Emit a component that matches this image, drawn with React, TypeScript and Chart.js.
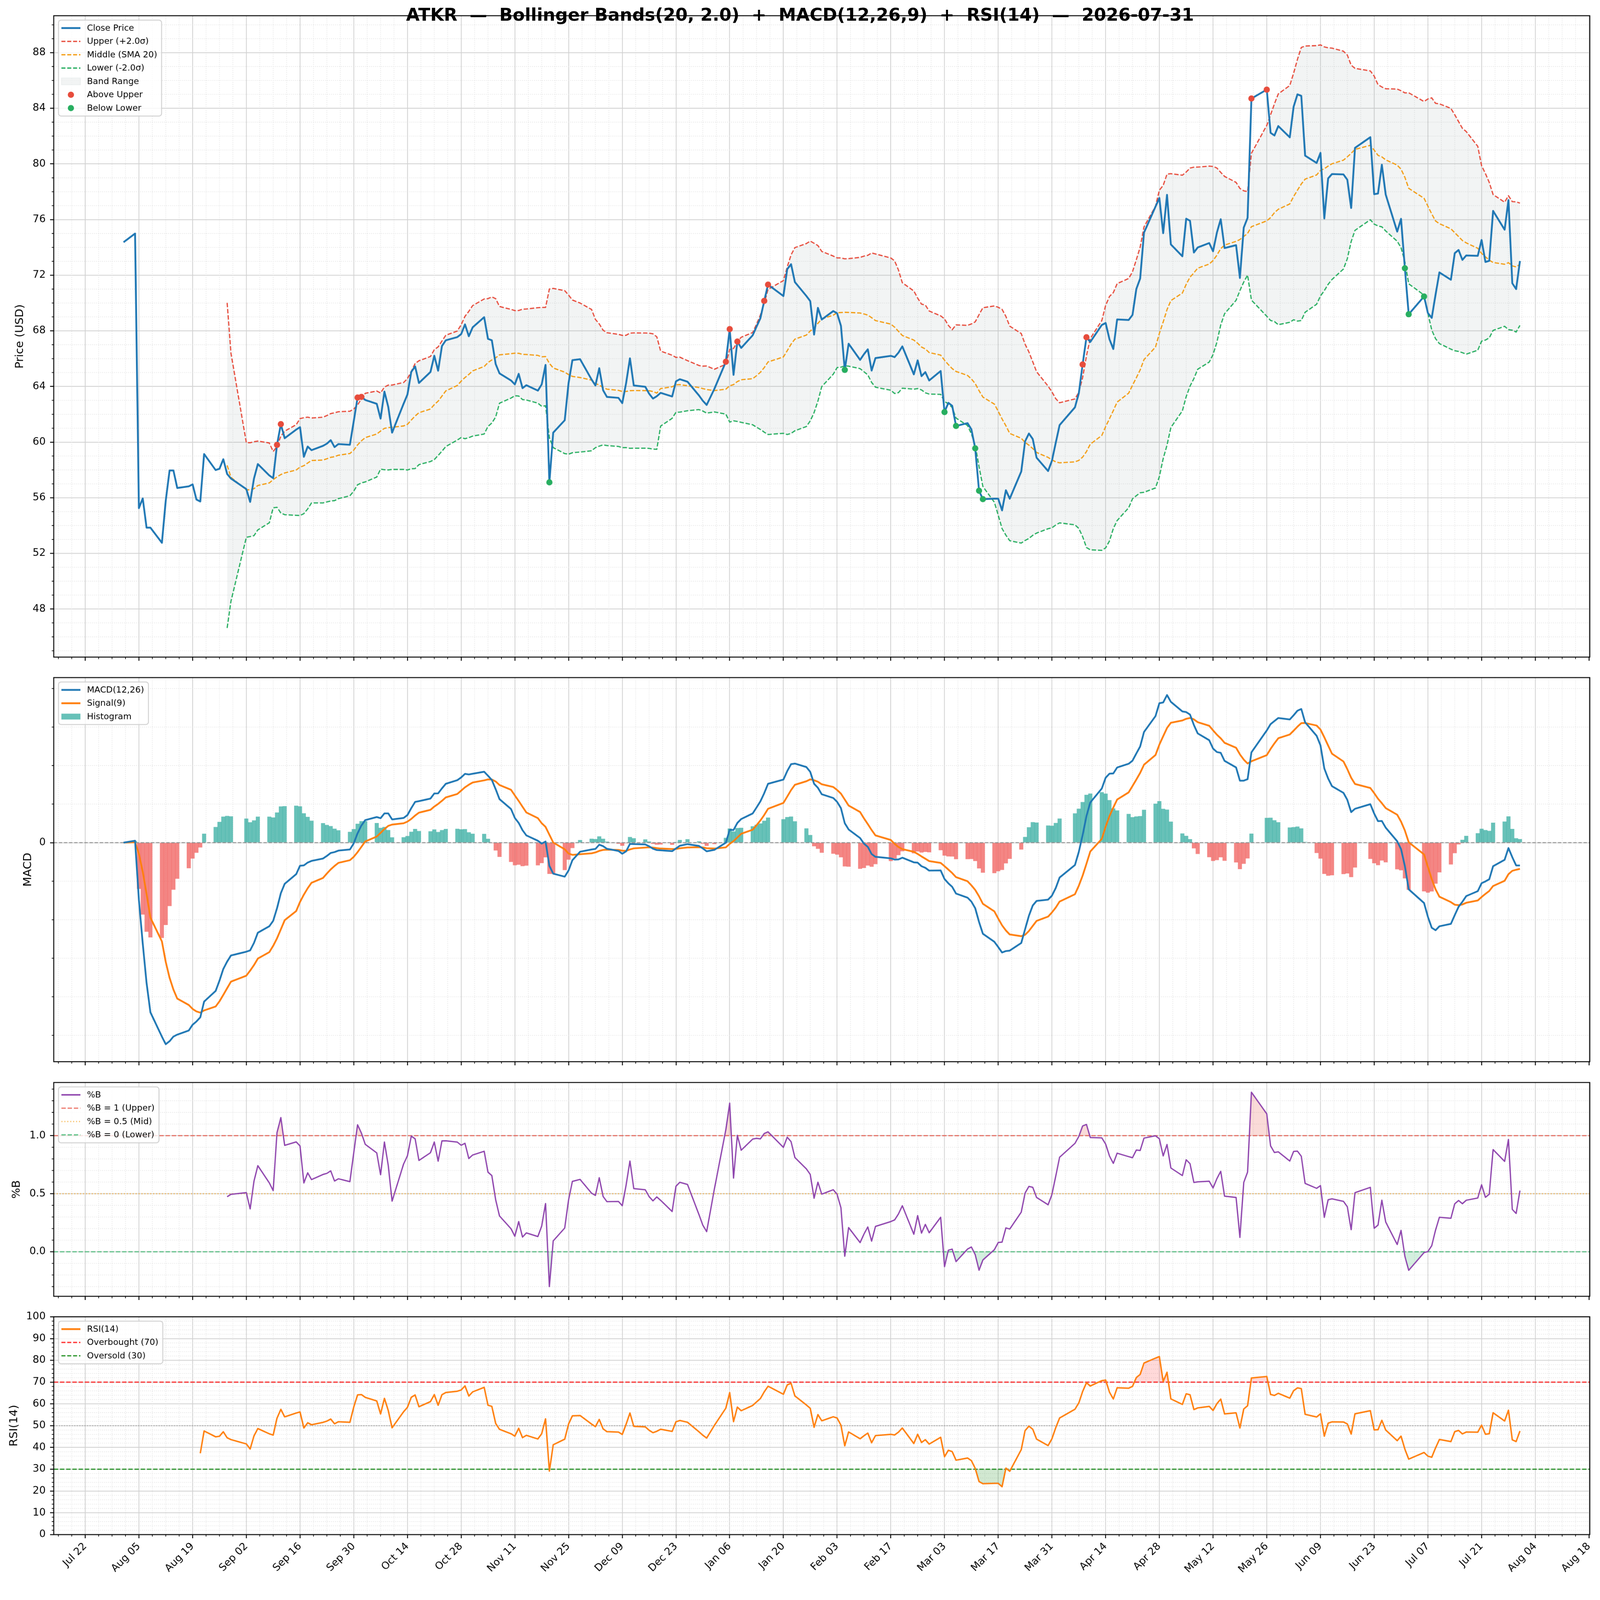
import React, { useEffect, useRef, useState } from "react";
import { Chart, registerables } from "chart.js";

Chart.register(...registerables);
Chart.defaults.font.family = '"DejaVu Sans", sans-serif';

// ---- data ----
const ticker = "ATKR";
const asOf = "2026-07-31";
const firstDay = "2025-08-01";
const lastDay = "2026-07-31";
// exchange holidays (no bars on these days)
const holidays = [
  "2025-09-01", "2025-11-27", "2025-12-25", "2026-01-01", "2026-01-19",
  "2026-02-16", "2026-04-03", "2026-05-25", "2026-06-19", "2026-07-03",
];

// daily closes, one row per week
const closes = [
  74.37,                                  // Aug 01
  74.99, 55.25, 55.95, 53.85, 53.85,      // Aug 04
  52.76, 55.80, 57.96, 57.96, 56.70,      // Aug 11
  56.82, 56.96, 55.87, 55.73, 59.14,      // Aug 18
  57.99, 58.08, 58.77, 57.71, 57.38,      // Aug 25
  56.62, 55.70, 57.38, 58.42,             // Sep 02
  57.60, 57.41, 59.80, 61.29, 60.28,      // Sep 08
  60.90, 61.07, 58.94, 59.68, 59.42,      // Sep 15
  59.73, 59.89, 60.14, 59.64, 59.86,      // Sep 22
  59.81, 61.50, 63.20, 63.25, 63.03,      // Sep 29
  62.75, 61.69, 63.63, 62.53, 60.68,      // Oct 06
  62.76, 63.42, 65.05, 65.44, 64.25,      // Oct 13
  65.04, 66.21, 65.13, 66.91, 67.32,      // Oct 20
  67.55, 67.76, 68.46, 67.61, 68.25,      // Oct 27
  68.98, 67.42, 67.32, 65.61, 64.94,      // Nov 03
  64.43, 64.15, 64.91, 63.88, 64.09,      // Nov 10
  63.70, 64.15, 65.55, 57.11, 60.68,      // Nov 17
  61.57, 64.24, 65.89, 65.96,             // Nov 24
  64.50, 64.07, 65.31, 63.73, 63.25,      // Dec 01
  63.18, 62.80, 64.24, 66.02, 64.07,      // Dec 08
  63.98, 63.48, 63.13, 63.30, 63.54,      // Dec 15
  63.28, 64.37, 64.52, 64.34,             // Dec 22
  63.35, 62.97, 62.67, 63.82,             // Dec 29
  65.78, 68.12, 64.83, 67.23, 66.77,      // Jan 05
  67.68, 68.30, 68.90, 70.15, 71.32,      // Jan 12
  70.50, 72.43, 72.79, 71.50,             // Jan 20
  70.50, 70.13, 67.73, 69.65, 68.81,      // Jan 26
  69.42, 69.26, 68.36, 65.19, 67.07,      // Feb 02
  65.91, 66.32, 66.67, 65.14, 66.04,      // Feb 09
  66.20, 66.11, 66.43, 66.88,             // Feb 17
  64.87, 65.88, 64.74, 65.03, 64.43,      // Feb 23
  65.11, 62.16, 62.82, 62.61, 61.16,      // Mar 02
  61.36, 60.92, 59.55, 56.50, 55.90,      // Mar 09
  55.93, 55.93, 55.09, 56.54, 55.93,      // Mar 16
  57.88, 60.05, 60.62, 60.22, 58.88,      // Mar 23
  57.92, 58.66, 59.96, 61.22,             // Mar 30
  62.50, 63.50, 65.58, 67.54, 67.20,      // Apr 06
  68.42, 68.56, 67.39, 66.69, 68.82,      // Apr 13
  68.78, 69.14, 71.01, 71.76, 75.06,      // Apr 20
  76.93, 77.55, 75.02, 77.78, 74.21,      // Apr 27
  73.36, 76.06, 75.91, 73.63, 73.99,      // May 04
  74.31, 73.72, 75.06, 76.02, 73.95,      // May 11
  74.16, 71.80, 75.42, 76.12, 84.70,      // May 18
  85.34, 82.23, 82.04, 82.72,             // May 26
  81.91, 84.11, 85.00, 84.89, 80.59,      // Jun 01
  80.07, 80.79, 76.08, 78.96, 79.27,      // Jun 08
  79.24, 78.86, 76.83, 81.15,             // Jun 15
  81.92, 77.82, 77.87, 79.94, 77.80,      // Jun 22
  75.13, 76.05, 72.50, 69.19,             // Jun 29
  70.47, 69.28, 68.93, 70.60, 72.20,      // Jul 06
  71.67, 73.58, 73.81, 73.10, 73.42,      // Jul 13
  73.39, 74.53, 72.95, 73.03, 76.62,      // Jul 20
  75.27, 77.40, 71.42, 71.00, 73.02,      // Jul 27
];

// indicator settings
const bbWindow = 20;
const bbK = 2.0;
const macdFast = 12;
const macdSlow = 26;
const macdSignal = 9;
const rsiPeriod = 14;
const pctBLevels = [1, 0.5, 0];
const rsiLevels = [70, 50, 30];

// date axis: a label every two weeks starting here
const tickOrigin = "2025-07-22";
const tickEveryDays = 14;
const months = ["Jan", "Feb", "Mar", "Apr", "May", "Jun", "Jul", "Aug", "Sep", "Oct", "Nov", "Dec"];

const title = `${ticker}  \u2014  Bollinger Bands(${bbWindow}, ${bbK.toFixed(1)})  +  MACD(${macdFast},${macdSlow},${macdSignal})  +  RSI(${rsiPeriod})  \u2014  ${asOf}`;

// ---- derived series ----
const DAY = 86400000;
const origin = Date.parse(tickOrigin + "T00:00:00Z");
const toX = (iso: string) => (Date.parse(iso + "T00:00:00Z") - origin) / DAY;

function tradingDays(): string[] {
  const out: string[] = [];
  const end = Date.parse(lastDay + "T00:00:00Z");
  for (let t = Date.parse(firstDay + "T00:00:00Z"); t <= end; t += DAY) {
    const d = new Date(t);
    const wd = d.getUTCDay();
    if (wd === 0 || wd === 6) continue;
    const iso = d.toISOString().slice(0, 10);
    if (holidays.includes(iso)) continue;
    out.push(iso);
  }
  return out;
}

const dates = tradingDays();
const n = Math.min(dates.length, closes.length);
const xs = dates.slice(0, n).map(toX);
const px = closes.slice(0, n);

function ema(v: number[], span: number) {
  const a = 2 / (span + 1);
  const out: number[] = [];
  v.forEach((x, i) => out.push(i === 0 ? x : a * x + (1 - a) * out[i - 1]));
  return out;
}

const emaFast = ema(px, macdFast);
const emaSlow = ema(px, macdSlow);
const macd = px.map((_, i) => emaFast[i] - emaSlow[i]);
const signal = ema(macd, macdSignal);
const hist = macd.map((m, i) => m - signal[i]);

const mid: (number | null)[] = [];
const upper: (number | null)[] = [];
const lower: (number | null)[] = [];
const pctB: (number | null)[] = [];
for (let i = 0; i < n; i++) {
  if (i < bbWindow - 1) {
    mid.push(null); upper.push(null); lower.push(null); pctB.push(null);
    continue;
  }
  const w = px.slice(i - bbWindow + 1, i + 1);
  const m = w.reduce((s, v) => s + v, 0) / bbWindow;
  const sd = Math.sqrt(w.reduce((s, v) => s + (v - m) * (v - m), 0) / (bbWindow - 1));
  mid.push(m);
  upper.push(m + bbK * sd);
  lower.push(m - bbK * sd);
  pctB.push((px[i] - (m - bbK * sd)) / (2 * bbK * sd));
}

const rsi: (number | null)[] = [null];
{
  let ag = 0, al = 0;
  const a = 1 / rsiPeriod;
  for (let i = 1; i < n; i++) {
    const d = px[i] - px[i - 1];
    const g = Math.max(d, 0), l = Math.max(-d, 0);
    if (i === 1) { ag = g; al = l; } else { ag = (1 - a) * ag + a * g; al = (1 - a) * al + a * l; }
    rsi.push(i >= rsiPeriod ? (al === 0 ? 100 : 100 - 100 / (1 + ag / al)) : null);
  }
}

const xy = (v: (number | null)[]) =>
  v.map((y, i) => (y === null ? null : { x: xs[i], y })).filter(Boolean) as { x: number; y: number }[];

const above = xy(px.map((c, i) => (upper[i] !== null && c > (upper[i] as number) ? c : null)));
const below = xy(px.map((c, i) => (lower[i] !== null && c < (lower[i] as number) ? c : null)));

const withMargin = (vals: number[]): [number, number] => {
  const lo = Math.min(...vals), hi = Math.max(...vals);
  return [lo - 0.05 * (hi - lo), hi + 0.05 * (hi - lo)];
};
const defined = (v: (number | null)[]) => v.filter((x) => x !== null) as number[];

const [xMin, xMax] = withMargin([xs[0], xs[n - 1]]);
const stepsIn = (min: number, max: number, step: number) => {
  const out: number[] = [];
  for (let k = Math.ceil(min / step - 1e-9); k * step <= max + 1e-9; k++) out.push(Math.round(k * step * 1e6) / 1e6);
  return out;
};
const isMult = (v: number, step: number) => Math.abs(v / step - Math.round(v / step)) < 1e-6;
const xMajor = stepsIn(xMin, xMax, tickEveryDays);
const xMinor = stepsIn(xMin, xMax, tickEveryDays / 4).filter((v) => !isMult(v, tickEveryDays));

const fmtDate = (v: number) => {
  const d = new Date(origin + Math.round(v) * DAY);
  return `${months[d.getUTCMonth()]} ${String(d.getUTCDate()).padStart(2, "0")}`;
};

// ---- drawing helpers ----
type LegendItem = { label: string; kind: "line" | "patch" | "dot"; color: string; width?: number; dash?: number[]; h?: number; edge?: string };

function framePlugin(yMinor: number[], legend: LegendItem[]) {
  return {
    id: "frame",
    beforeDatasetsDraw(chart: any) {
      const { ctx, chartArea: a, scales } = chart;
      ctx.save();
      ctx.strokeStyle = "#e0e0e0";
      ctx.lineWidth = 1.8;
      ctx.setLineDash([2, 3.5]);
      ctx.beginPath();
      for (const v of xMinor) {
        const p = scales.x.getPixelForValue(v);
        ctx.moveTo(p, a.top); ctx.lineTo(p, a.bottom);
      }
      for (const v of yMinor) {
        const p = scales.y.getPixelForValue(v);
        ctx.moveTo(a.left, p); ctx.lineTo(a.right, p);
      }
      ctx.stroke();
      ctx.restore();
    },
    afterDraw(chart: any) {
      const { ctx, chartArea: a, scales } = chart;
      ctx.save();
      ctx.strokeStyle = "#000";
      ctx.lineWidth = 1.8;
      ctx.beginPath();
      for (const v of xMinor) {
        const p = scales.x.getPixelForValue(v);
        ctx.moveTo(p, a.bottom); ctx.lineTo(p, a.bottom + 5.5);
      }
      for (const v of yMinor) {
        const p = scales.y.getPixelForValue(v);
        ctx.moveTo(a.left - 5.5, p); ctx.lineTo(a.left, p);
      }
      ctx.stroke();
      ctx.lineWidth = 2.6;
      ctx.strokeRect(a.left, a.top, a.right - a.left, a.bottom - a.top);

      // legend box, upper left inside the plot
      const pitch = 36.5;
      ctx.font = '23.5px "DejaVu Sans"';
      const tw = Math.max(...legend.map((it) => ctx.measureText(it.label).width));
      const bx = a.left + 13, by = a.top + 12;
      const bw = 78 + tw + 12, bh = legend.length * pitch + 7, r = 7;
      ctx.beginPath();
      ctx.moveTo(bx + r, by);
      ctx.arcTo(bx + bw, by, bx + bw, by + bh, r);
      ctx.arcTo(bx + bw, by + bh, bx, by + bh, r);
      ctx.arcTo(bx, by + bh, bx, by, r);
      ctx.arcTo(bx, by, bx + bw, by, r);
      ctx.closePath();
      ctx.fillStyle = "rgba(255,255,255,0.8)";
      ctx.fill();
      ctx.strokeStyle = "#cfcfcf";
      ctx.lineWidth = 2.5;
      ctx.stroke();
      legend.forEach((it, i) => {
        const cy = by + 3.5 + pitch * (i + 0.5);
        const h0 = bx + 8, h1 = bx + 60;
        if (it.kind === "line") {
          ctx.strokeStyle = it.color;
          ctx.lineWidth = it.width || 3;
          ctx.setLineDash(it.dash || []);
          ctx.beginPath(); ctx.moveTo(h0, cy); ctx.lineTo(h1, cy); ctx.stroke();
          ctx.setLineDash([]);
        } else if (it.kind === "patch") {
          const h = it.h || 18;
          ctx.fillStyle = it.color;
          ctx.fillRect(h0, cy - h / 2, h1 - h0, h);
          if (it.edge) { ctx.strokeStyle = it.edge; ctx.lineWidth = 1.5; ctx.strokeRect(h0, cy - h / 2, h1 - h0, h); }
        } else {
          ctx.fillStyle = it.color;
          ctx.beginPath(); ctx.arc((h0 + h1) / 2, cy, 8.5, 0, Math.PI * 2); ctx.fill();
        }
        ctx.fillStyle = "#000";
        ctx.textBaseline = "middle";
        ctx.textAlign = "left";
        ctx.fillText(it.label, bx + 78, cy + 1);
      });
      ctx.restore();
    },
  };
}

const gridStyle = { color: "#d2d2d2", lineWidth: 2.2, tickColor: "#000", tickWidth: 2.5, tickLength: 10, drawTicks: true, offset: false };

function baseOptions(p: {
  xLabels: boolean; xH: number; yMin: number; yMax: number; yMajor: number[];
  yFmt: (v: number) => string; yTitle: string; titlePad: number;
}) {
  return {
    animation: false,
    responsive: false,
    devicePixelRatio: 1,
    events: [],
    layout: { padding: { top: 20, right: 28, bottom: 0, left: 0 } },
    plugins: { legend: { display: false }, tooltip: { enabled: false } },
    scales: {
      x: {
        type: "linear", min: xMin, max: xMax, offset: false,
        afterBuildTicks: (s: any) => { s.ticks = xMajor.map((value) => ({ value })); },
        afterFit: (s: any) => { s.height = p.xH; s.paddingLeft = 0; s.paddingRight = 0; },
        grid: gridStyle, border: { display: false },
        ticks: {
          display: p.xLabels, autoSkip: false, minRotation: 45, maxRotation: 45, padding: 6,
          color: "#000", font: { size: 28 }, callback: (v: number) => fmtDate(v),
        },
      },
      y: {
        type: "linear", min: p.yMin, max: p.yMax, offset: false, beginAtZero: false,
        afterBuildTicks: (s: any) => { s.ticks = p.yMajor.map((value) => ({ value })); },
        afterFit: (s: any) => { s.width = 147; s.paddingTop = 0; s.paddingBottom = 0; },
        grid: gridStyle, border: { display: false },
        ticks: { padding: 12, color: "#000", font: { size: 28 }, callback: (v: number) => p.yFmt(v) },
        title: { display: true, text: p.yTitle, color: "#000", font: { size: 31 }, padding: { top: p.titlePad, bottom: 0 } },
      },
    },
  };
}

const ln = (data: any[], color: string, width: number, dash: number[] = [], order = 0, extra: any = {}) => ({
  type: "line", data, borderColor: color, borderWidth: width, borderDash: dash, pointRadius: 0,
  fill: false, tension: 0, borderJoinStyle: "round", order, ...extra,
});
const hline = (y: number) => [{ x: xMin, y }, { x: xMax, y }];

// ---- panels ----
const PAGE_W = 4378;
const PAGE_H = 4322;
const panels = [
  { top: 43, bottom: 1798, xH: 14 },
  { top: 1854, bottom: 2905, xH: 14 },
  { top: 2962, bottom: 3547, xH: 14 },
  { top: 3603, bottom: 4199, xH: 123 },
];

function priceConfig() {
  const [yMin, yMax] = withMargin([...px, ...defined(upper), ...defined(lower)]);
  const yMajor = stepsIn(yMin, yMax, 4);
  const yMinor = stepsIn(yMin, yMax, 1).filter((v) => !isMult(v, 4));
  const bandFill = "rgba(149,165,166,0.12)";
  const legend: LegendItem[] = [
    { label: "Close Price", kind: "line", color: "#1f77b4", width: 5 },
    { label: "Upper (+2.0\u03c3)", kind: "line", color: "#e74c3c", width: 3.3, dash: [11, 5] },
    { label: "Middle (SMA 20)", kind: "line", color: "#f39c12", width: 3.3, dash: [11, 5] },
    { label: "Lower (-2.0\u03c3)", kind: "line", color: "#27ae60", width: 3.3, dash: [11, 5] },
    { label: "Band Range", kind: "patch", color: bandFill, h: 19, edge: "rgba(149,165,166,0.15)" },
    { label: "Above Upper", kind: "dot", color: "#e74c3c" },
    { label: "Below Lower", kind: "dot", color: "#27ae60" },
  ];
  return {
    type: "line",
    data: {
      datasets: [
        ln(xy(px), "#1f77b4", 5, [], 1),
        ln(xy(upper), "#e74c3c", 3.3, [12, 5], 5, { fill: "+2", backgroundColor: bandFill }),
        ln(xy(mid), "#f39c12", 3.3, [12, 5], 4),
        ln(xy(lower), "#27ae60", 3.3, [12, 5], 3),
        { type: "line", data: above, showLine: false, pointRadius: 8.5, pointBackgroundColor: "#e74c3c", pointBorderWidth: 0, order: 0 },
        { type: "line", data: below, showLine: false, pointRadius: 8.5, pointBackgroundColor: "#27ae60", pointBorderWidth: 0, order: 0 },
      ],
    },
    options: baseOptions({ xLabels: false, xH: 14, yMin, yMax, yMajor, yFmt: (v) => String(v), yTitle: "Price (USD)", titlePad: 36 }),
    plugins: [framePlugin(yMinor, legend)],
  };
}

function macdConfig() {
  const [yMin, yMax] = withMargin([...macd, ...signal, ...hist, 0]);
  const yMinor = stepsIn(yMin, yMax, 1).filter((v) => v !== 0);
  const teal = "rgba(38,166,154,0.7)";
  const red = "rgba(239,83,80,0.7)";
  const legend: LegendItem[] = [
    { label: "MACD(12,26)", kind: "line", color: "#1f77b4", width: 5 },
    { label: "Signal(9)", kind: "line", color: "#ff7f0e", width: 5 },
    { label: "Histogram", kind: "patch", color: teal, h: 16 },
  ];
  return {
    type: "line",
    data: {
      datasets: [
        { type: "bar", data: xy(hist), backgroundColor: hist.map((h) => (h >= 0 ? teal : red)), barThickness: 10.5, order: 5 },
        ln(hline(0), "#8c8c8c", 2.5, [9, 5], 4),
        ln(xy(signal), "#ff7f0e", 4.8, [], 2),
        ln(xy(macd), "#1f77b4", 4.8, [], 1),
      ],
    },
    options: baseOptions({ xLabels: false, xH: 14, yMin, yMax, yMajor: [0], yFmt: (v) => (v === 0 ? "0" : ""), yTitle: "MACD", titlePad: 58 }),
    plugins: [framePlugin(yMinor, legend)],
  };
}

function pctBConfig() {
  const [yMin, yMax] = withMargin(defined(pctB));
  const yMajor = stepsIn(yMin, yMax, 0.5);
  const yMinor = stepsIn(yMin, yMax, 0.1).filter((v) => !isMult(v, 0.5));
  const cols = ["rgba(231,76,60,0.7)", "rgba(243,156,18,0.6)", "rgba(39,174,96,0.7)"];
  const dashes = [[12, 5], [3, 5], [12, 5]];
  const legend: LegendItem[] = [
    { label: "%B", kind: "line", color: "#8e44ad", width: 4 },
    { label: "%B = 1 (Upper)", kind: "line", color: cols[0], width: 3.3, dash: dashes[0] },
    { label: "%B = 0.5 (Mid)", kind: "line", color: cols[1], width: 3.3, dash: dashes[1] },
    { label: "%B = 0 (Lower)", kind: "line", color: cols[2], width: 3.3, dash: dashes[2] },
  ];
  return {
    type: "line",
    data: {
      datasets: [
        ln(xy(pctB), "#8e44ad", 3.5, [], 0, { fill: { target: { value: pctBLevels[0] }, above: "rgba(231,76,60,0.2)", below: "transparent" } }),
        ln(xy(pctB), "rgba(0,0,0,0)", 0, [], 1, { fill: { target: { value: pctBLevels[2] }, above: "transparent", below: "rgba(39,174,96,0.2)" } }),
        ...pctBLevels.map((lv, i) => ln(hline(lv), cols[i], 3.3, dashes[i], 2 + i)),
      ],
    },
    options: baseOptions({ xLabels: false, xH: 14, yMin, yMax, yMajor, yFmt: (v) => v.toFixed(1), yTitle: "%B", titlePad: 27 }),
    plugins: [framePlugin(yMinor, legend)],
  };
}

function rsiConfig() {
  const yMajor = stepsIn(0, 100, 10);
  const yMinor = stepsIn(0, 100, 2).filter((v) => !isMult(v, 10));
  const legend: LegendItem[] = [
    { label: "RSI(14)", kind: "line", color: "#ff7f0e", width: 5 },
    { label: "Overbought (70)", kind: "line", color: "rgba(255,0,0,0.8)", width: 3.3, dash: [11, 5] },
    { label: "Oversold (30)", kind: "line", color: "rgba(0,128,0,0.8)", width: 3.3, dash: [11, 5] },
  ];
  return {
    type: "line",
    data: {
      datasets: [
        ln(xy(rsi), "#ff7f0e", 4, [], 0, { fill: { target: { value: rsiLevels[0] }, above: "rgba(255,0,0,0.15)", below: "transparent" } }),
        ln(xy(rsi), "rgba(0,0,0,0)", 0, [], 1, { fill: { target: { value: rsiLevels[2] }, above: "transparent", below: "rgba(0,128,0,0.18)" } }),
        ln(hline(rsiLevels[0]), "rgba(255,0,0,0.8)", 3.3, [12, 5], 2),
        ln(hline(rsiLevels[1]), "rgba(128,128,128,0.6)", 2.5, [3, 4], 3),
        ln(hline(rsiLevels[2]), "rgba(0,128,0,0.8)", 3.3, [12, 5], 4),
      ],
    },
    options: baseOptions({ xLabels: true, xH: 123, yMin: 0, yMax: 100, yMajor, yFmt: (v) => String(v), yTitle: "RSI(14)", titlePad: 20 }),
    plugins: [framePlugin(yMinor, legend)],
  };
}

const fitScale = () =>
  typeof window === "undefined" ? 1 : Math.min(1, window.innerWidth / PAGE_W, window.innerHeight / PAGE_H);

export default function App() {
  const refs = [useRef<HTMLCanvasElement>(null), useRef<HTMLCanvasElement>(null), useRef<HTMLCanvasElement>(null), useRef<HTMLCanvasElement>(null)];
  const [scale, setScale] = useState(fitScale());

  useEffect(() => {
    document.body.style.margin = "0";
    document.body.style.overflow = "hidden";
    setScale(fitScale());
    const onResize = () => setScale(fitScale());
    window.addEventListener("resize", onResize);
    const builders = [priceConfig, macdConfig, pctBConfig, rsiConfig];
    const charts: Chart[] = [];
    refs.forEach((r, i) => {
      if (!r.current) return;
      // @ts-ignore
      charts.push(new Chart(r.current.getContext("2d"), builders[i]()));
    });
    return () => {
      window.removeEventListener("resize", onResize);
      charts.forEach((c) => c.destroy());
    };
  }, []);

  return (
    <div
      style={{
        position: "absolute", left: 0, top: 0, width: PAGE_W, height: PAGE_H, background: "#fff",
        overflow: "hidden", transform: `scale(${scale})`, transformOrigin: "0 0",
      }}
    >
      {panels.map((p, i) => {
        const top = p.top - 20;
        const h = p.bottom - p.top + 20 + p.xH;
        return (
          <canvas
            key={i}
            ref={refs[i]}
            width={PAGE_W}
            height={h}
            style={{ position: "absolute", left: 0, top, width: PAGE_W, height: h }}
          />
        );
      })}
      <div
        style={{
          position: "absolute", left: 0, top: 16, width: PAGE_W, textAlign: "center",
          font: 'bold 48px "DejaVu Sans", sans-serif', lineHeight: "48px", whiteSpace: "pre", color: "#000",
        }}
      >
        {title}
      </div>
    </div>
  );
}
